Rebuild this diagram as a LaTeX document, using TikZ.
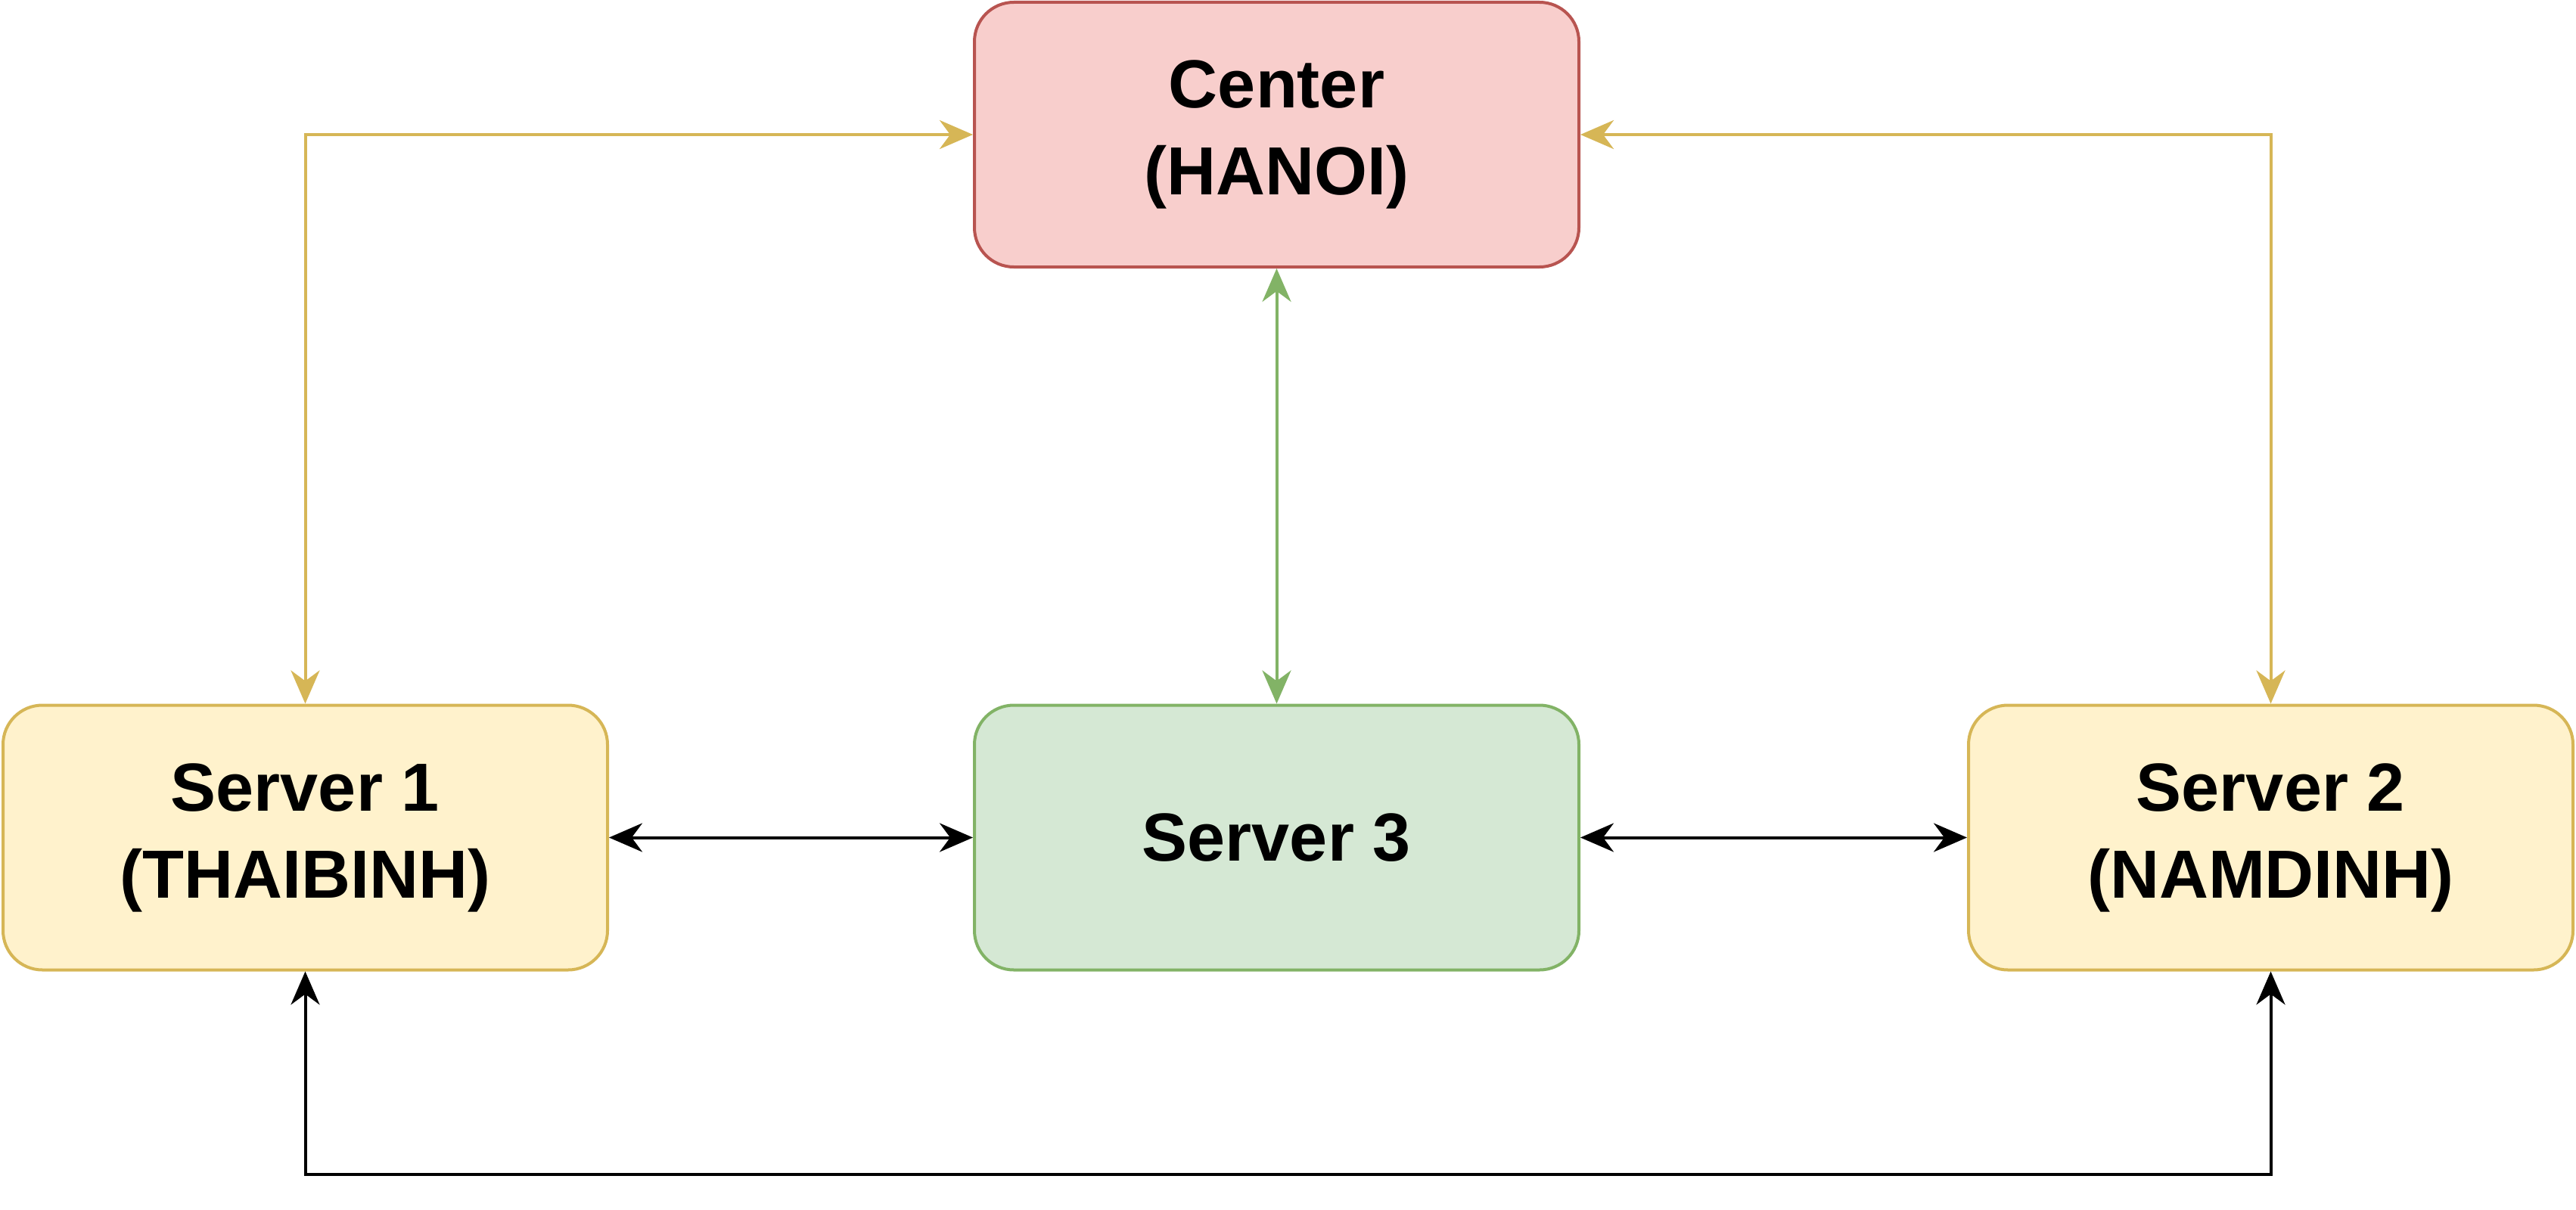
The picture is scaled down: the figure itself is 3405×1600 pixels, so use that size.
\documentclass[tikz,border=0pt]{standalone}
\usepackage{fontspec}
\setmainfont{Liberation Sans}
\usetikzlibrary{arrows.meta}
\definecolor{redfill}{HTML}{F8CECC}
\definecolor{redline}{HTML}{B85450}
\definecolor{yelfill}{HTML}{FFF2CC}
\definecolor{yelline}{HTML}{D6B656}
\definecolor{grnfill}{HTML}{D5E8D4}
\definecolor{grnline}{HTML}{82B366}
\begin{document}
\begin{tikzpicture}[x=1pt,y=-1pt,
  box/.style={draw, rounded corners=52pt, line width=4pt, minimum width=799pt, minimum height=350pt, inner sep=0pt, align=center, font=\fontsize{90}{115}\selectfont\bfseries},
  tip/.tip={Stealth[length=44pt,width=38pt,inset=14pt]},
  conn/.style={line width=4pt, tip-tip},
]
\useasboundingbox (0,0) rectangle (3405,1600);
\fill[white] (0,0) rectangle (3405,1600);
\node[box, fill=redfill, draw=redline] (c) at (1687.5,178) {Center\\(HANOI)};
\node[box, fill=yelfill, draw=yelline] (s1) at (403.5,1107.5) {Server 1\\(THAIBINH)};
\node[box, fill=grnfill, draw=grnline] (s3) at (1687.5,1107.5) {Server 3};
\node[box, fill=yelfill, draw=yelline] (s2) at (3001.5,1107.5) {Server 2\\(NAMDINH)};
\coordinate (b) at (0,1553);
\draw[conn, yelline] (s1.north) |- (c.west);
\draw[conn, yelline] (s2.north) |- (c.east);
\draw[conn, grnline] (c.south) -- (s3.north);
\draw[conn] (s1.east) -- (s3.west);
\draw[conn] (s3.east) -- (s2.west);
\draw[conn] (s1.south) -- (s1.south |- b) -| (s2.south);
\end{tikzpicture}
\end{document}
